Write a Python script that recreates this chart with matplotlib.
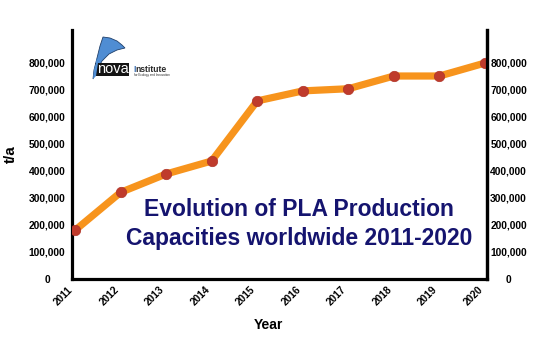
import matplotlib
matplotlib.use("Agg")
import matplotlib.pyplot as plt
from matplotlib.patches import Polygon, Rectangle

# ---- data ----
years = [2011, 2012, 2013, 2014, 2015, 2016, 2017, 2018, 2019, 2020]
capacity = [180000, 320000, 388000, 436000, 658000, 695000, 703000, 750000, 750000, 798000]
y_ticks = [0, 100000, 200000, 300000, 400000, 500000, 600000, 700000, 800000]
y_tick_labels = ["0", "100,000", "200,000", "300,000", "400,000", "500,000",
                 "600,000", "700,000", "800,000"]
x_tick_labels = [str(y) for y in years]
title_text = "Evolution of PLA Production\nCapacities worldwide 2011-2020"

plt.rcParams['font.family'] = ['Liberation Sans', 'DejaVu Sans']

W, H = 540, 340
fig = plt.figure(figsize=(W / 100, H / 100), dpi=100)
fig.patch.set_facecolor('white')

ax = fig.add_axes([72 / W, 61 / H, 415 / W, 249 / H])
ax.plot(years, capacity, color='#F7941D', lw=5.2, solid_capstyle='butt',
        solid_joinstyle='round', zorder=2)
ax.plot(years, capacity, 'o', color='#BF3B2C', ms=7.5, mec='#B03428', mew=0.5, zorder=3)

ax.set_xlim(2010.934, 2020.044)
ax.set_ylim(0, 920000)

for s in ['left', 'right', 'bottom']:
    ax.spines[s].set_linewidth(2.3)
    ax.spines[s].set_color('black')
ax.spines['top'].set_visible(False)

ax.set_xticks(years)
ax.set_xticklabels(x_tick_labels, rotation=45, ha='right', fontsize=7.4, fontweight='bold')
ax.tick_params(axis='x', length=0, pad=4)

ax.set_yticks(y_ticks)
ax.set_yticklabels(y_tick_labels, fontsize=7.4, fontweight='bold')
ax.tick_params(axis='y', length=0, pad=18)
for lab in ax.get_yticklabels():
    lab.set_ha('center')

ax2 = ax.twinx()
ax2.set_ylim(ax.get_ylim())
ax2.set_yticks(y_ticks)
ax2.set_yticklabels(y_tick_labels, fontsize=7.4, fontweight='bold')
ax2.tick_params(axis='y', length=0, pad=15.5)
for lab in ax2.get_yticklabels():
    lab.set_ha('center')
for s in ['left', 'top', 'bottom']:
    ax2.spines[s].set_visible(False)
ax2.spines['right'].set_linewidth(2.3)

fig.text(268 / W, 1 - 325 / H, 'Year', ha='center', va='center',
         fontsize=10, fontweight='bold')
fig.text(11 / W, 1 - 154 / H, 't/a', ha='center', va='center', rotation=90,
         fontsize=11, fontweight='bold')

fig.text(299 / W, 1 - 224 / H, title_text, ha='center', va='center',
         multialignment='center', fontsize=16.5, fontweight='bold',
         color='#15146F', linespacing=1.32)

# ---- logo ----
lg = fig.add_axes([85 / W, 1 - 85 / H, 85 / W, 50 / H])
lg.set_xlim(85, 170)
lg.set_ylim(85, 35)
lg.axis('off')
wedge = [(93, 79), (94, 70), (97, 58), (100, 46), (103, 37), (110, 38), (117, 41),
         (122, 45), (125, 48), (117, 50), (109, 54), (102, 61), (97, 70)]
lg.add_patch(Polygon(wedge, closed=True, facecolor='#4F8DD3', edgecolor='#1F3F6A', lw=0.6))
lg.add_patch(Rectangle((95, 63), 34, 13, facecolor='#141414', edgecolor='none', zorder=1))
lg.add_patch(Polygon([(93, 79), (94, 70), (97, 58), (98, 63), (96, 76)], closed=True,
                     facecolor='#4F8DD3', edgecolor='none', zorder=2))
lg.text(113, 69.2, 'nova', color='white', fontsize=10.5, ha='center', va='center', zorder=3)
lg.text(133, 70, 'I', color='#3C6FB0', fontsize=6.2, fontweight='bold',
        ha='left', va='center')
lg.text(135.2, 70, 'nstitute', color='#2a2a2a', fontsize=6.2, fontweight='bold',
        ha='left', va='center')
lg.text(134, 75, 'for Ecology and Innovation', color='#2a2a2a', fontsize=2.2,
        ha='left', va='center')

fig.savefig('out.png', dpi=100, facecolor='white')
